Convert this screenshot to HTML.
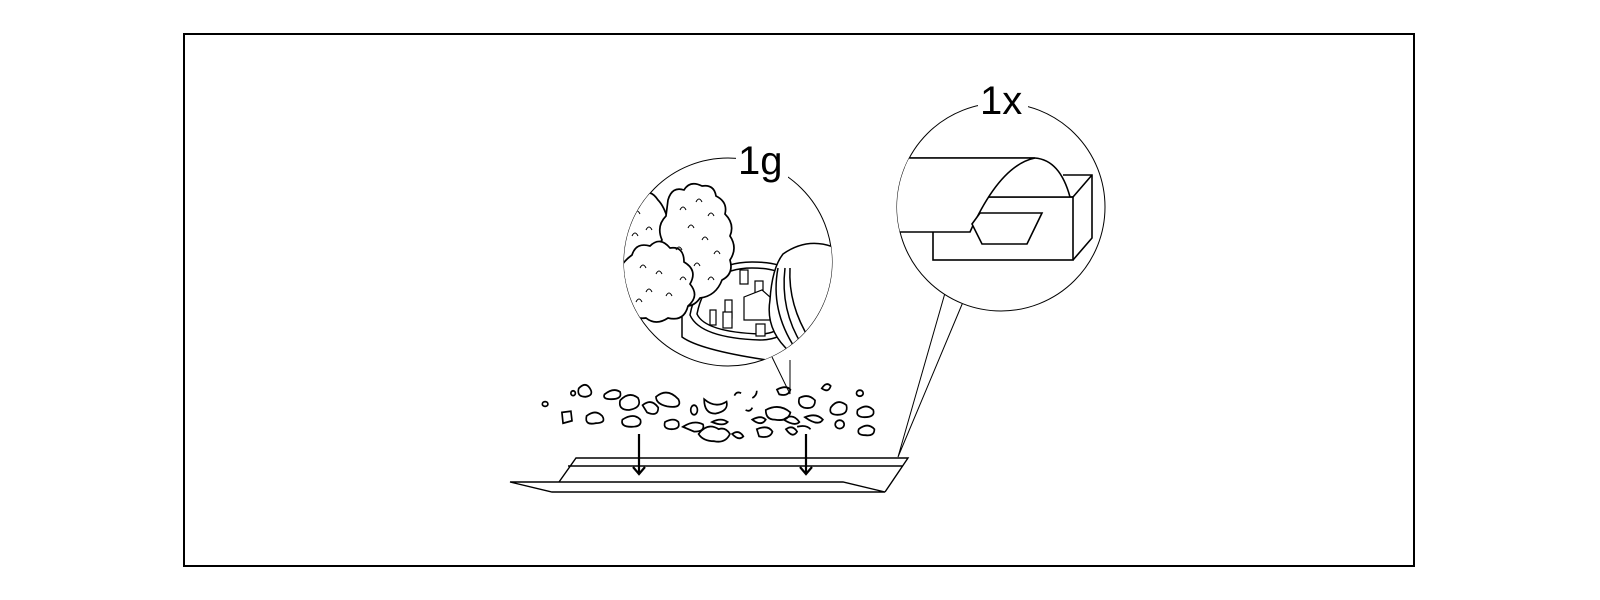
<!DOCTYPE html>
<html><head><meta charset="utf-8"><style>
html,body{margin:0;padding:0;background:#fff;}
svg{display:block;}
text{font-family:"Liberation Sans","DejaVu Sans",sans-serif;}
</style></head><body>
<svg width="1600" height="600" viewBox="0 0 1600 600" xmlns="http://www.w3.org/2000/svg">
<defs>
<clipPath id="cl"><circle cx="728" cy="262" r="104"/></clipPath>
<clipPath id="cr"><circle cx="1001" cy="207" r="104"/></clipPath>
</defs>
<rect x="184" y="34" width="1230" height="532" fill="none" stroke="#000" stroke-width="2"/>

<!-- left bubble -->
<path d="M790,360 L790,394 L772,357" fill="none" stroke="#000" stroke-width="1"/>
<circle cx="728" cy="262" r="104" fill="#fff" stroke="#000" stroke-width="1"/>
<rect x="736" y="140" width="52" height="38" fill="#fff"/>
<text x="738" y="174" font-size="40">1g</text>
<g clip-path="url(#cl)" fill="none" stroke="#000" stroke-width="1.5">
 <path d="M682,317 L682,337 Q700,350 767,360 L790,360 L790,330" fill="#fff"/>
 <path d="M690,315 Q700,262 752,262 Q800,262 800,290 Q800,340 760,340 Q700,338 690,315Z" fill="#fff"/>
 <path d="M697,314 Q706,268 752,268 Q793,268 793,292 Q792,334 760,334 Q705,332 697,314Z"/>
 <g stroke-width="1.2" fill="#fff">
  <rect x="740" y="270" width="8" height="14"/><rect x="755" y="281" width="8" height="14"/>
  <path d="M744,297 L762,290 L770,297 L770,320 L744,320Z"/><rect x="725" y="300" width="7" height="18"/>
  <rect x="723" y="312" width="9" height="16"/><rect x="756" y="324" width="9" height="12"/>
  <rect x="774" y="311" width="6" height="18"/><rect x="710" y="310" width="6" height="15"/>
 </g>
 <path d="M783,254 Q810,235 840,250 L840,330 Q815,355 790,352 Q765,330 770,300 Q772,268 783,254Z" fill="#fff"/>
 <path d="M778,268 Q770,310 795,348 M785,268 Q780,310 802,345 M790,268 Q788,305 810,340" />
 <g stroke-width="1.7">
 <path d="M625,200 Q632,188 642,196 Q650,188 658,200 Q664,206 668,220 Q672,232 668,244 Q672,256 664,266 Q660,282 640,288 Q620,290 612,270Z" fill="#fff"/>
 <path d="M668,200 Q672,186 684,190 Q690,180 702,186 Q714,184 716,196 Q728,202 725,214 Q735,224 730,236 Q738,248 730,260 Q734,274 722,280 Q716,296 700,298 Q692,310 678,304 Q664,304 662,290 Q654,276 660,262 Q654,250 662,240 Q656,226 666,216Z" fill="#fff"/>
 <path d="M632,255 Q636,242 650,246 Q660,236 670,248 Q684,246 684,262 Q698,270 690,284 Q700,296 688,306 Q684,322 668,318 Q656,326 646,318 Q630,320 626,306 Q614,296 622,282 Q614,268 632,255Z" fill="#fff"/>
 </g>
 <g stroke-width="1">
  <path d="M680,210 q3,-6 6,0 M696,202 q3,-6 6,0 M708,216 q3,-6 6,0 M688,228 q3,-6 6,0 M702,240 q3,-6 6,0 M676,250 q3,-6 6,0 M714,254 q3,-6 6,0 M694,266 q3,-6 6,0 M708,280 q3,-6 6,0 M680,280 q3,-6 6,0 M634,214 q3,-6 6,0 M646,230 q3,-6 6,0 M632,236 q3,-6 6,0 M640,268 q3,-6 6,0 M656,274 q3,-6 6,0 M646,292 q3,-6 6,0 M666,296 q3,-6 6,0 M636,302 q3,-6 6,0"/>
 </g>
</g>

<!-- right bubble -->
<path d="M945,293 L898,457 L963,302" fill="none" stroke="#000" stroke-width="1"/>
<circle cx="1001" cy="207" r="104" fill="#fff" stroke="#000" stroke-width="1"/>
<rect x="978" y="84" width="50" height="34" fill="#fff"/>
<text x="980" y="114" font-size="40">1x</text>
<g clip-path="url(#cr)" fill="none" stroke="#000" stroke-width="1.6">
 <path d="M1063,175 L1092,175 L1092,238 L1073,260" />
 <path d="M1073,197 L1092,175"/>
 <rect x="933" y="197" width="140" height="63" fill="#fff"/>
 <path d="M880,158 L1035,158 Q1062,160 1070,197 L988,197" fill="#fff" stroke="none"/>
 <path d="M880,158 L1035,158 Q1060,160 1070,197"/>
 <path d="M880,158 L1035,158 Q1000,165 970,232 L880,232Z" fill="#fff" stroke="none"/>
 <path d="M880,158 L1035,158 Q1000,165 970,232 L880,232"/>
 <path d="M988,197 L1073,197"/>
 <path d="M972,224 L980,213 L1042,213 L1027,244 L982,244Z" fill="#fff"/>
</g>

<!-- crumbs -->
<g fill="none" stroke="#000" stroke-width="1.5" transform="translate(712,410) scale(1.12,1.2) translate(-712,-410)">
<ellipse cx="563" cy="405" rx="2.5" ry="2"/><path d="M578,412 l8,-1 l1,8 l-8,2z"/>
<ellipse cx="588" cy="396" rx="2" ry="2"/><path d="M593,392 q6,-6 10,0 q4,6 -4,7 q-8,0 -6,-7z"/>
<path d="M600,415 q8,-6 14,0 q4,6 -6,6 q-10,2 -8,-6z"/><path d="M616,397 q8,-6 14,-2 q2,6 -8,6 q-8,0 -6,-4z"/>
<path d="M630,402 q8,-8 16,-2 q4,8 -8,10 q-10,0 -8,-8z"/><path d="M632,418 q10,-6 16,0 q2,6 -8,6 q-10,0 -8,-6z"/>
<path d="M650,406 q8,-6 14,2 q0,8 -10,4z"/><path d="M662,399 q10,-8 20,2 q4,8 -10,6 q-10,-2 -10,-8z"/>
<path d="M670,420 q8,-4 12,0 q2,6 -6,6 q-8,0 -6,-6z"/><ellipse cx="696" cy="410" rx="3" ry="4"/>
<path d="M686,424 q10,-6 18,-2 q2,6 -8,6z"/><path d="M705,401 q10,8 20,2 q2,8 -10,10 q-10,0 -10,-12z"/>
<path d="M700,430 q8,-10 18,-4 q6,-2 10,4 q-4,8 -14,6 q-10,0 -14,-6z"/><path d="M730,430 q6,-4 10,2 q-4,4 -10,-2z"/>
<path d="M742,410 q4,2 6,-2 M748,400 q4,-2 4,-6"/><path d="M748,418 q8,-4 12,0 q-4,6 -12,0z"/>
<path d="M752,426 q10,-4 14,2 q-2,6 -12,4z"/><path d="M760,410 q12,-6 22,2 q-2,8 -14,6 q-8,0 -8,-8z"/>
<path d="M770,393 q8,-4 12,0 q-2,6 -10,4z"/><path d="M778,426 q6,-4 10,2 q-4,6 -10,-2z"/>
<path d="M776,418 q8,-6 14,2 q-4,4 -14,-2z"/><path d="M790,400 q8,-4 14,2 q0,8 -10,6 q-6,-2 -4,-8z"/>
<path d="M795,416 q10,-4 16,2 q-4,6 -16,-2z"/><path d="M810,392 q4,-6 8,-2 q-2,6 -8,2z"/>
<path d="M818,408 q6,-8 14,-2 q2,8 -8,8 q-8,0 -6,-6z"/><ellipse cx="826" cy="422" rx="4" ry="3.5"/>
<ellipse cx="844" cy="396" rx="3" ry="2.5"/><path d="M842,410 q8,-6 14,0 q2,6 -8,6 q-8,0 -6,-6z"/>
<path d="M843,426 q8,-6 14,0 q0,6 -8,5 q-8,0 -6,-5z"/><path d="M732,398 q2,-4 6,-2"/>
<path d="M712,420 q8,-4 14,0 q-4,4 -14,0z"/><path d="M788,424 q8,-2 12,2"/>
</g>

<!-- arrows -->
<g stroke="#000" stroke-width="2.2" fill="none">
<path d="M639,434 L639,474 M633,467 L639,474 L645,467"/>
<path d="M806,434 L806,474 M800,467 L806,474 L812,467"/>
</g>

<!-- paper -->
<g stroke="#000" stroke-width="1.4" fill="none">
<path d="M559,482 L576,458 L908,458 L885,492"/>
<path d="M568,466 L903,466"/>
<path d="M510,482 L843,482 L885,492 L552,492 Z"/>
</g>
</svg>
</body></html>
